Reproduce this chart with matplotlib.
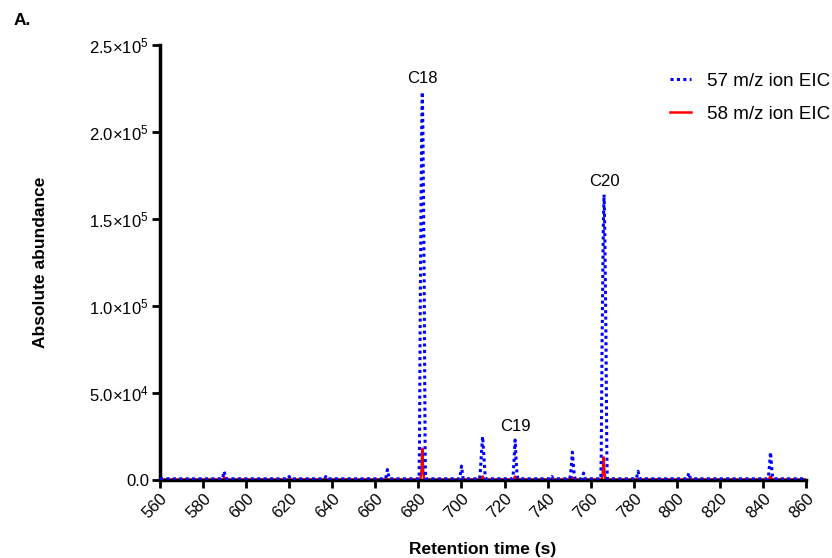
import numpy as np
import matplotlib.pyplot as plt
from matplotlib.ticker import FuncFormatter

plt.rcParams['font.family'] = ['Liberation Sans', 'DejaVu Sans']
plt.rcParams['mathtext.fontset'] = 'custom'
plt.rcParams['mathtext.rm'] = 'Liberation Sans'

# 57 m/z ion EIC (retention time in s, abundance)
rt57 = [560, 589.0, 589.8, 590.6, 619.5, 620.0, 620.5, 636.5, 637.0, 637.5,
        664.8, 665.6, 666.4,
        680.3, 680.5, 680.9, 681.5, 681.8, 682.1, 682.7, 683.1, 683.3,
        699.2, 700.0, 700.8,
        708.4, 708.7, 709.2, 709.8, 710.4, 710.9, 711.2,
        723.6, 724.0, 724.4, 724.9, 725.4, 725.8, 726.2,
        741.5, 742.0, 742.5,
        750.2, 750.6, 751.0, 751.5, 752.0, 752.4, 752.8,
        756.0, 756.7, 757.4,
        764.7, 764.9, 765.3, 765.9, 766.2, 766.5, 767.1, 767.5, 767.7,
        781.2, 782.0, 782.8, 804.8, 805.6, 806.4,
        842.2, 842.6, 843.0, 843.5, 844.0, 844.4, 844.8, 860]
ab57 = [700, 700, 5000, 700, 700, 2000, 700, 700, 2000, 700,
        700, 6000, 700,
        700, 20000, 110000, 200000, 223000, 200000, 110000, 20000, 700,
        700, 8000, 700,
        700, 4000, 14000, 25000, 14000, 4000, 700,
        700, 3000, 11000, 23000, 11000, 3000, 700,
        700, 2000, 700,
        700, 2500, 8000, 16000, 8000, 2500, 700,
        700, 4000, 700,
        700, 15000, 80000, 148000, 164000, 148000, 80000, 15000, 700,
        700, 5000, 700, 700, 4000, 700,
        700, 2500, 8000, 16000, 8000, 2500, 700, 700]

# 58 m/z ion EIC
rt58 = [560, 589.0, 590.0, 591.0,
        680.9, 681.4, 681.8, 682.2, 682.7,
        708.8, 709.8, 710.6, 724.0, 724.9, 725.7, 750.6, 751.5, 752.3,
        765.1, 765.6, 766.0, 766.4, 766.9, 842.6, 843.5, 844.3, 860]
ab58 = [300, 300, 1500, 300,
        300, 5000, 18000, 5000, 300,
        300, 2000, 300, 300, 2000, 300, 300, 1500, 300,
        300, 4000, 13000, 4000, 300, 300, 2000, 300, 300]

peak_names = ['C18', 'C19', 'C20']
peak_rt = [681.8, 724.9, 766.2]
peak_top = [223000, 23000, 164000]

fig = plt.figure(figsize=(8.32, 5.58), dpi=100)
ax = fig.add_axes([0.1923, 0.1398, 0.7765, 0.7796])

ax.plot(rt58, ab58, color='red', lw=1.8, label='58 m/z ion EIC', zorder=2)
ax.plot(rt57, ab57, color='blue', lw=2.2, linestyle=(0, (1, 1.1)),
        label='57 m/z ion EIC', zorder=3)

for name, x, y in zip(peak_names, peak_rt, peak_top):
    ax.annotate(name, (x, y), xytext=(0, 4), textcoords='offset points',
                ha='center', va='bottom', fontsize=12)

ax.set_xlim(560, 860)
ax.set_ylim(0, 2.5e5)
ax.set_xticks(np.arange(560, 861, 20))
ax.set_yticks([0, 5e4, 1e5, 1.5e5, 2e5, 2.5e5])


def sci(v, pos):
    if v == 0:
        return '0.0'
    e = int(np.floor(np.log10(v)))
    m = v / 10 ** e
    return r'$\mathrm{%.1f}{\times}\mathrm{10^{%d}}$' % (m, e)


ax.yaxis.set_major_formatter(FuncFormatter(sci))
for s in ['top', 'right']:
    ax.spines[s].set_visible(False)
for s in ['left', 'bottom']:
    ax.spines[s].set_linewidth(2.5)
ax.tick_params(width=2, length=6, labelsize=12, pad=2)
plt.setp(ax.get_xticklabels(), rotation=45, ha='right', rotation_mode='anchor')

ax.set_xlabel('Retention time (s)', fontsize=12.5, fontweight='bold', labelpad=15)
ax.set_ylabel('Absolute abundance', fontsize=12.5, fontweight='bold', labelpad=30)

h, l = ax.get_legend_handles_labels()
ax.legend(h[::-1], l[::-1], loc='upper right', bbox_to_anchor=(1.018, 0.90),
          bbox_transform=fig.transFigure, frameon=False, fontsize=13.5,
          handlelength=1.1, handletextpad=0.85, labelspacing=0.85)

fig.text(0.016, 0.955, 'A.', fontsize=12.5, fontweight='bold')

fig.savefig('out.png', dpi=100)
